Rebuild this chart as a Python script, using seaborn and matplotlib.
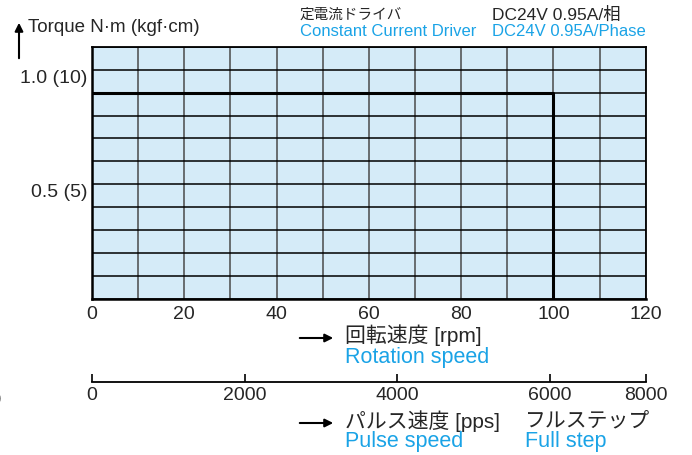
import numpy as np
import matplotlib
matplotlib.use("Agg")
import matplotlib.pyplot as plt
import seaborn as sns

# Torque curve (rpm vs N·m)
speed_rpm = [0, 100, 100]
torque_nm = [0.9, 0.9, 0.0]

# axes ranges and tick labels
rpm_ticks = [0, 20, 40, 60, 80, 100, 120]
torque_ticks = [0.5, 1.0]
torque_labels = ["0.5 (5)", "1.0 (10)"]
# pulse scale as drawn in the source: the last mark sits at the end of the bar
pps_tick_pos = [0, 2000, 4000, 6000, 7250]
pps_tick_labels = ["0", "2000", "4000", "6000", "8000"]

sns.set_style("white")
plt.rcParams["font.family"] = ["Liberation Sans", "Noto Sans CJK JP", "DejaVu Sans"]

BLUE = "#1aa3e6"
FILL = "#d5ebf8"
W, H = 692, 455

fig = plt.figure(figsize=(W / 100, H / 100), dpi=100)

def fx(px):
    return px / W

def fy(py):
    return 1 - py / H

# main chart
ax = fig.add_axes([fx(92), fy(299), fx(645.7) - fx(92), fy(46.7) - fy(299)])
ax.set_facecolor(FILL)
sns.lineplot(x=speed_rpm, y=torque_nm, ax=ax, color="black", lw=2.2,
             estimator=None, sort=False, zorder=5)
ax.set_xlim(0, 120)
ax.set_ylim(0, 1.1)
ax.set_xticks(rpm_ticks)
ax.set_xticks(np.arange(0, 121, 10), minor=True)
ax.set_yticks(np.arange(0, 1.11, 0.1), minor=True)
ax.set_yticks(torque_ticks)
ax.set_yticklabels(torque_labels)
ax.xaxis.grid(True, which="both", color="#4a4a4a", lw=1.1)
ax.yaxis.grid(True, which="both", color="black", lw=1.1)
ax.tick_params(axis="both", which="both", length=0, labelsize=14)
ax.tick_params(axis="x", pad=5)
ax.tick_params(axis="y", pad=3)
for lbl in ax.get_yticklabels():
    lbl.set_va("top")
for side in ["left", "bottom"]:
    ax.spines[side].set_linewidth(1.8)
for side in ["top", "right"]:
    ax.spines[side].set_linewidth(1.3)
for sp in ax.spines.values():
    sp.set_color("black")
    sp.set_zorder(6)
ax.set_xlabel("")
ax.set_ylabel("")

# pulse speed scale
ax2 = fig.add_axes([fx(92), fy(381.5), fx(645.7) - fx(92), 0.001])
ax2.set_xlim(pps_tick_pos[0], pps_tick_pos[-1])
ax2.set_xticks(pps_tick_pos)
ax2.set_xticklabels(pps_tick_labels)
ax2.set_yticks([])
for side in ["left", "right", "top"]:
    ax2.spines[side].set_visible(False)
ax2.spines["bottom"].set_linewidth(1.3)
ax2.spines["bottom"].set_color("black")
ax2.tick_params(axis="x", bottom=True, direction="in", length=6, width=1.2,
                color="black", labelsize=14, pad=4)
ax2.patch.set_visible(False)

# texts
arrow = dict(arrowstyle="-|>", color="black", lw=1.5, mutation_scale=12)
fig.text(fx(28), fy(28), "Torque N·m (kgf·cm)", fontsize=13.5, va="center")
ax.annotate("", xy=(fx(19), fy(20)), xytext=(fx(19), fy(61)),
            xycoords="figure fraction", textcoords="figure fraction", arrowprops=arrow)

fig.text(fx(300), fy(15), "定電流ドライバ", fontsize=10.5, va="center")
fig.text(fx(300), fy(32), "Constant Current Driver", fontsize=12, va="center", color=BLUE)
fig.text(fx(492), fy(15), "DC24V 0.95A/相", fontsize=12.5, va="center")
fig.text(fx(492), fy(32), "DC24V 0.95A/Phase", fontsize=12, va="center", color=BLUE)

fig.text(fx(345), fy(335), "回転速度 [rpm]", fontsize=15, va="center")
fig.text(fx(345), fy(357), "Rotation speed", fontsize=15.5, va="center", color=BLUE)
ax.annotate("", xy=(fx(336), fy(338)), xytext=(fx(297), fy(338)),
            xycoords="figure fraction", textcoords="figure fraction", arrowprops=arrow)

fig.text(fx(345), fy(421), "パルス速度 [pps]", fontsize=15, va="center")
fig.text(fx(525), fy(421), "フルステップ", fontsize=15, va="center")
fig.text(fx(345), fy(441), "Pulse speed", fontsize=15.5, va="center", color=BLUE)
fig.text(fx(525), fy(441), "Full step", fontsize=15.5, va="center", color=BLUE)
ax.annotate("", xy=(fx(336), fy(423)), xytext=(fx(297), fy(423)),
            xycoords="figure fraction", textcoords="figure fraction", arrowprops=arrow)

fig.text(fx(-4), fy(398), ")", fontsize=12, va="center")

fig.savefig("out.png", dpi=100)
